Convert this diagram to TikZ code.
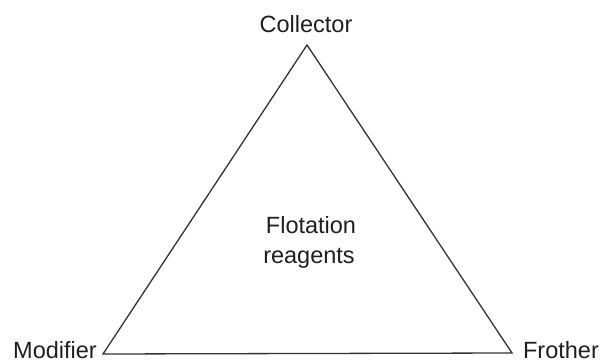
\documentclass[tikz,border=0pt]{standalone}
\usepackage{fontspec}
\setmainfont{Liberation Sans}
\begin{document}
\begin{tikzpicture}[x=1pt,y=-1pt,
  lbl/.style={font=\fontsize{23.5}{30}\selectfont, text=black!88, inner sep=0pt, anchor=base},
  edge/.style={draw=black!80, line width=1.3pt, line join=miter}]
\useasboundingbox (0,0) rectangle (601,363);
\coordinate (top) at (307,45);
\coordinate (left) at (103,354);
\coordinate (right) at (512,353);
\draw[edge] (top) -- (left) -- (right) -- cycle;
\node[lbl] (collector) at (306,33) {Collector};
\node[lbl] (modifier) at (55,358) {Modifier};
\node[lbl] (frother) at (561,358) {Frother};
\node[lbl] (flot) at (311,233) {Flotation};
\node[lbl] (reag) at (309,263) {reagents};
\end{tikzpicture}
\end{document}
